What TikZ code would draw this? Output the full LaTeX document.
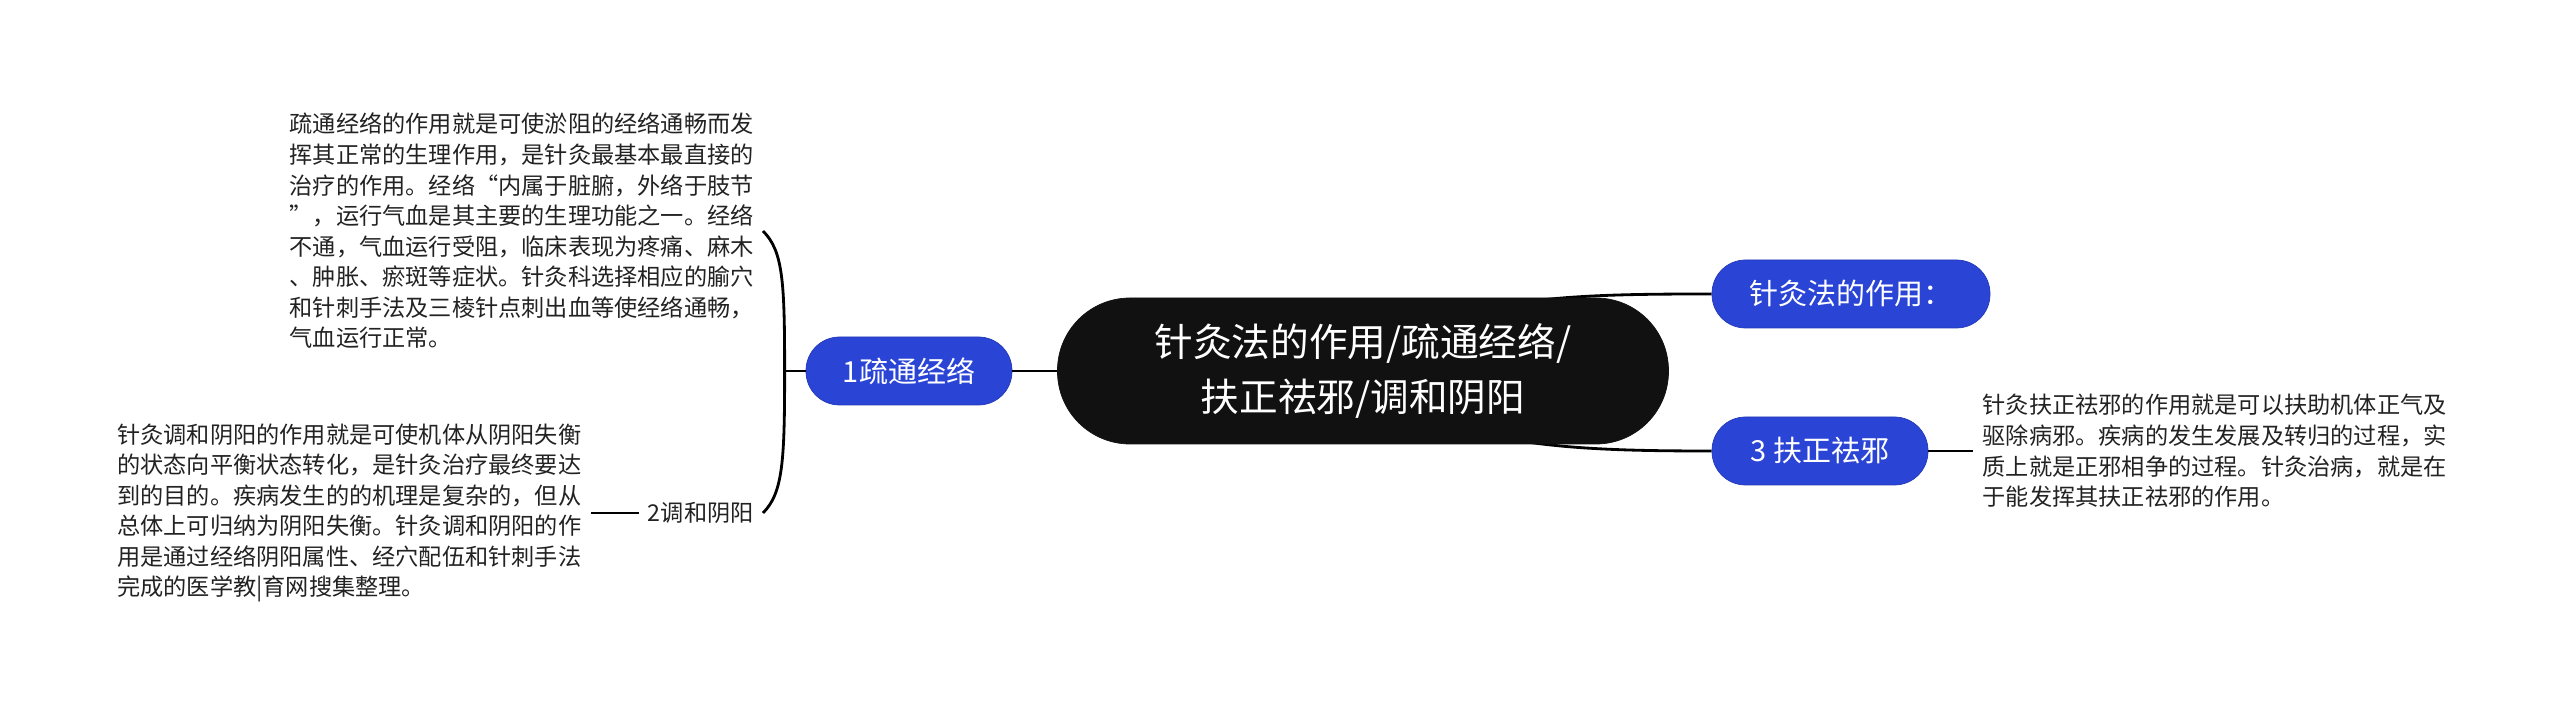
\documentclass[tikz,border=0pt]{standalone}
\usepackage{fontspec}
\setmainfont{Noto Sans CJK SC}
\usepackage{tikz}
\usetikzlibrary{positioning,backgrounds}
\definecolor{topicblue}{HTML}{2A44D6}
\definecolor{rootblack}{HTML}{111111}
\definecolor{notegray}{HTML}{222222}
\tikzstyle{root}=[draw=rootblack, fill=rootblack, text=white, rounded corners=1.45cm, minimum height=2.92cm, minimum width=12.22cm, align=center, font=\fontsize{22}{31.3}\selectfont]
\tikzstyle{sub}=[draw=topicblue!85!black, fill=topicblue, text=white, rounded corners=0.67cm, minimum height=1.36cm, font=\fontsize{16.5}{20}\selectfont]
\tikzstyle{note}=[text=notegray, align=left, inner xsep=0.18cm, font=\fontsize{13.2}{17.4}\selectfont]

\begin{document}
\begin{tikzpicture}[node distance=2cm]
\useasboundingbox (-27.26,-6.88) rectangle (23.94,7.42);

\node[root] at (0,0) (central) {针灸法的作用/疏通经络/\\扶正祛邪/调和阴阳};

\node[sub, minimum width=4.12cm, left of = central, node distance = 9.08cm] (tong) {1疏通经络};
\node[sub, minimum width=5.56cm, right of = central, node distance = 9.76cm, yshift=1.54cm] (zuoyong) {针灸法的作用：};
\node[sub, minimum width=4.32cm, right of = central, node distance = 9.14cm, yshift=-1.6cm] (fuzheng) {3 扶正祛邪};

\coordinate (fork) at ([xshift=-0.42cm]tong.west);
\node[note, anchor=east] at (-12.0,2.8) (tongtxt) {疏通经络的作用就是可使淤阻的经络通畅而发\\挥其正常的生理作用，是针灸最基本最直接的\\治疗的作用。经络“内属于脏腑，外络于肢节\\”，运行气血是其主要的生理功能之一。经络\\不通，气血运行受阻，临床表现为疼痛、麻木\\、肿胀、瘀斑等症状。针灸科选择相应的腧穴\\和针刺手法及三棱针点刺出血等使经络通畅，\\气血运行正常。};
\node[note, anchor=east] at (-12.0,-2.84) (yinyang) {2调和阴阳};
\node[note, left = 0.96cm of yinyang] (yytxt) {针灸调和阴阳的作用就是可使机体从阴阳失衡\\的状态向平衡状态转化，是针灸治疗最终要达\\到的目的。疾病发生的的机理是复杂的，但从\\总体上可归纳为阴阳失衡。针灸调和阴阳的作\\用是通过经络阴阳属性、经穴配伍和针刺手法\\完成的医学教|育网搜集整理。};
\node[note, right = 0.9cm of fuzheng] (fztxt) {针灸扶正祛邪的作用就是可以扶助机体正气及\\驱除病邪。疾病的发生发展及转归的过程，实\\质上就是正邪相争的过程。针灸治病，就是在\\于能发挥其扶正祛邪的作用。};

\draw[line width = 1.4pt] (tong) -- (central);
\draw[line width = 1.6pt] (tong.west) -- (fork);
\draw[line width = 1.6pt] (fork) .. controls +(0,1.8) and +(0.4,-0.4) .. (tongtxt.east);
\draw[line width = 1.6pt] (fork) .. controls +(0,-1.8) and +(0.4,0.4) .. (yinyang.east);
\draw[line width = 1.6pt] (yinyang) -- (yytxt);
\draw[line width = 1.6pt] (fuzheng) -- (fztxt);

\begin{pgfonlayer}{background}
\draw[line width = 1.6pt] (central.center) .. controls +(1.5,1.5) and +(-3,0) .. (zuoyong.west);
\draw[line width = 1.6pt] (central.center) .. controls +(1.5,-1.5) and +(-3,0) .. (fuzheng.west);
\end{pgfonlayer}
\end{tikzpicture}
\end{document}
